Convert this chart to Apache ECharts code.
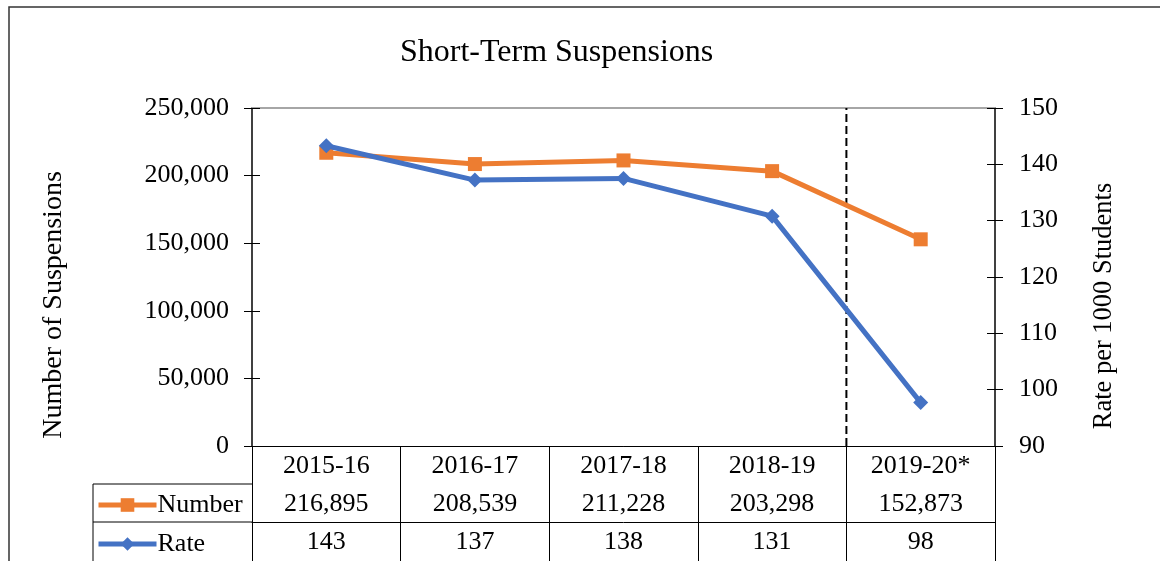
<!DOCTYPE html>
<html>
<head>
<meta charset="utf-8">
<script src="https://cdn.jsdelivr.net/npm/echarts@6/dist/echarts.min.js"></script>
<style>html,body{margin:0;padding:0;background:#fff;}#c{width:1160px;height:561px;}</style>
</head>
<body>
<div id="c"></div>
<script>
const categories = ['2015-16', '2016-17', '2017-18', '2018-19', '2019-20*'];
const numberValues = [216895, 208539, 211228, 203298, 152873];
const rateValues = [143.3, 137.2, 137.5, 130.8, 97.7];
const rateTable = [143, 137, 138, 131, 98];
const leftTicks = { min: 0, max: 250000, interval: 50000 };
const rightTicks = { min: 90, max: 150, interval: 10 };
const dividerAt = [[4, 0], [4, 250000]];

const FONT = 'Liberation Serif';
const W = 1160, H = 561;
const G = { left: 252, right: 165, top: 108, bottom: 115 };
const ROW = 38;
const gridBottomY = H - G.bottom;
const tableLeft = 93;

const fmt = v => Number(v).toLocaleString('en-US');
const lbl = { fontFamily: FONT, fontSize: 26, color: '#000', lineHeight: 26 };

const chart = echarts.init(document.getElementById('c'), null, { renderer: 'canvas' });
chart.setOption({
  animation: false,
  backgroundColor: '#fff',
  title: {
    text: 'Short-Term Suspensions', left: 395, top: 32,
    textStyle: { fontFamily: FONT, fontSize: 32, fontWeight: 'normal', color: '#000' }
  },
  grid: { left: G.left, right: G.right, top: G.top, bottom: G.bottom, containLabel: false },
  legend: {
    data: ['Number', 'Rate'], orient: 'vertical', left: tableLeft + 3, top: gridBottomY + ROW + 8,
    itemWidth: 58, itemHeight: 17, itemGap: 13, padding: 0,
    lineStyle: { width: 5 },
    textStyle: Object.assign({}, lbl, { padding: [0, 0, 0, -4] })
  },
  xAxis: [
    { type: 'category', data: categories, position: 'bottom', boundaryGap: true,
      axisLine: { show: true, lineStyle: { color: '#000', width: 1 } },
      axisTick: { show: true, interval: 0, length: G.bottom, lineStyle: { color: '#000', width: 1 } },
      axisLabel: Object.assign({ margin: 7, interval: 0 }, lbl), splitLine: { show: false } },
    { type: 'category', data: numberValues.map(fmt), position: 'bottom', offset: ROW,
      axisLine: { show: true, lineStyle: { color: '#000', width: 1 } },
      axisTick: { show: false }, axisLabel: Object.assign({ margin: 7, interval: 0 }, lbl) },
    { type: 'category', data: rateTable.map(String), position: 'bottom', offset: ROW * 2,
      axisLine: { show: true, lineStyle: { color: '#000', width: 1 } },
      axisTick: { show: false }, axisLabel: Object.assign({ margin: 7, interval: 0 }, lbl) },
    { type: 'value', min: 0, max: categories.length, show: false },
    { type: 'category', data: categories, position: 'top', axisLabel: { show: false }, axisTick: { show: false },
      axisLine: { show: true, lineStyle: { color: '#A6A6A6', width: 2 } } }
  ],
  yAxis: [
    { type: 'value', position: 'left', min: leftTicks.min, max: leftTicks.max, interval: leftTicks.interval,
      name: 'Number of Suspensions', nameLocation: 'middle', nameRotate: 90, nameGap: 184,
      nameTextStyle: { fontFamily: FONT, fontSize: 28, color: '#000', padding: [0, 56, 0, 0] },
      axisLine: { show: true, lineStyle: { color: '#404040', width: 2 } },
      axisTick: { show: true, length: 8, lineStyle: { color: '#000' } },
      axisLabel: Object.assign({ margin: 23, formatter: v => fmt(v) }, lbl),
      splitLine: { show: false } },
    { type: 'value', position: 'right', min: rightTicks.min, max: rightTicks.max, interval: rightTicks.interval,
      name: 'Rate per 1000 Students', nameLocation: 'middle', nameRotate: 90, nameGap: 96,
      nameTextStyle: { fontFamily: FONT, fontSize: 26.5, color: '#000', padding: [0, 58, 0, 0] },
      axisLine: { show: true, lineStyle: { color: '#404040', width: 2 } },
      axisTick: { show: true, length: 8, lineStyle: { color: '#000' } },
      axisLabel: Object.assign({ margin: 24 }, lbl),
      splitLine: { show: false } },
    { type: 'value', position: 'left', min: leftTicks.min, max: leftTicks.max, interval: leftTicks.interval,
      axisLine: { show: false }, axisLabel: { show: false }, splitLine: { show: false },
      axisTick: { show: true, inside: true, length: 8, lineStyle: { color: '#000' } } },
    { type: 'value', position: 'right', min: rightTicks.min, max: rightTicks.max, interval: rightTicks.interval,
      axisLine: { show: false }, axisLabel: { show: false }, splitLine: { show: false },
      axisTick: { show: true, inside: true, length: 8, lineStyle: { color: '#000' } } }
  ],
  graphic: [
    { type: 'rect', shape: { x: 9, y: 7, width: W + 50, height: H + 50 }, silent: true, z: -10,
      style: { fill: 'none', stroke: '#333', lineWidth: 1.5 } },
    { type: 'line', shape: { x1: tableLeft, y1: gridBottomY + ROW, x2: G.left, y2: gridBottomY + ROW }, silent: true,
      style: { stroke: '#000', lineWidth: 1 } },
    { type: 'line', shape: { x1: tableLeft, y1: gridBottomY + ROW * 2, x2: G.left, y2: gridBottomY + ROW * 2 }, silent: true,
      style: { stroke: '#000', lineWidth: 1 } },
    { type: 'line', shape: { x1: tableLeft, y1: gridBottomY + ROW, x2: tableLeft, y2: H + 5 }, silent: true,
      style: { stroke: '#000', lineWidth: 1 } }
  ],
  series: [
    { name: 'divider', type: 'line', xAxisIndex: 3, yAxisIndex: 0, data: dividerAt, symbol: 'none', silent: true,
      lineStyle: { color: '#000', width: 2, type: [8, 4] }, z: 1 },
    { name: 'Number', type: 'line', xAxisIndex: 0, yAxisIndex: 0, data: numberValues,
      symbol: 'rect', symbolSize: 14, color: '#ED7D31',
      lineStyle: { color: '#ED7D31', width: 5 }, itemStyle: { color: '#ED7D31' }, z: 3 },
    { name: 'Rate', type: 'line', xAxisIndex: 0, yAxisIndex: 1, data: rateValues,
      symbol: 'diamond', symbolSize: 15, color: '#4472C4',
      lineStyle: { color: '#4472C4', width: 5 }, itemStyle: { color: '#4472C4' }, z: 4 }
  ]
});
</script>
</body>
</html>
